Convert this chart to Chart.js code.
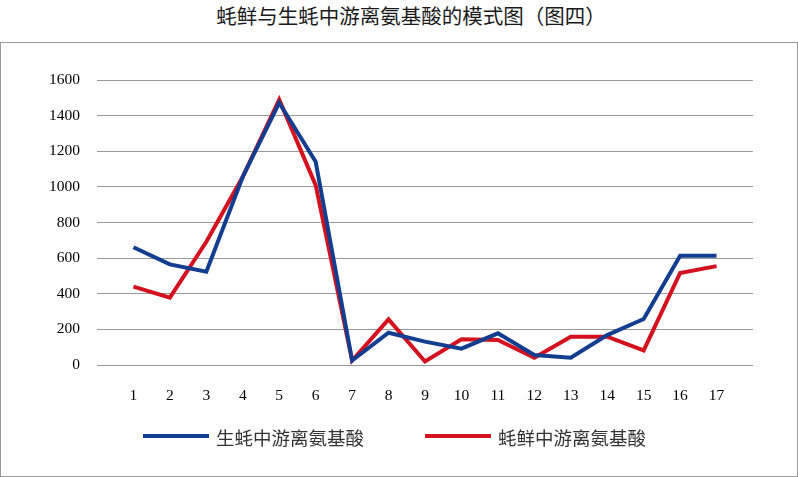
<!DOCTYPE html>
<html>
<head>
<meta charset="utf-8">
<script src="https://cdn.jsdelivr.net/npm/chart.js@4"></script>
<style>
  html, body { margin: 0; padding: 0; background: #fff; }
  #title {
    position: absolute; left: 19px; top: 3px; width: 784px;
    text-align: center; font: 20.5px "Noto Sans CJK SC", sans-serif; color: #1a1a1a;
    line-height: 24px;
  }
  #box {
    position: absolute; left: 0; top: 42px; width: 798px; height: 435px;
    box-sizing: border-box; border: 1px solid #999;
  }
  #box canvas { display: block; }
  #legend { position: absolute; left: 0; top: 424px; width: 798px; height: 26px; }
  .item { position: absolute; top: 0; height: 26px; }
  .swatch { position: absolute; top: 10px; width: 66px; height: 4px; }
  .text {
    position: absolute; top: 0; white-space: nowrap;
    font: 18.5px "Noto Sans CJK SC", sans-serif; line-height: 26px; color: #333;
  }
</style>
</head>
<body>
<div id="title">蚝鲜与生蚝中游离氨基酸的模式图（图四）</div>
<div id="box"><canvas id="chart" width="796" height="433"></canvas></div>
<div id="legend"></div>
<script>
const labels = [1, 2, 3, 4, 5, 6, 7, 8, 9, 10, 11, 12, 13, 14, 15, 16, 17];
const rawOyster = [661, 565, 524, 1057, 1472, 1141, 25, 181, 131, 92, 178, 56, 41, 168, 258, 613, 613];
const freshOyster = [440, 378, 692, 1057, 1490, 1010, 25, 256, 20, 144, 140, 41, 159, 159, 82, 517, 555];
const seriesNames = ['生蚝中游离氨基酸', '蚝鲜中游离氨基酸'];
const yTicks = [0, 200, 400, 600, 800, 1000, 1200, 1400, 1600];

const blue = '#133d8f';
const red = '#d4111e';

const chart = new Chart(document.getElementById('chart'), {
    type: 'line',
    data: {
        datasets: [
            {
                label: seriesNames[0],
                data: labels.map((x, i) => ({ x: x, y: rawOyster[i] })),
                borderColor: blue,
                backgroundColor: blue,
                borderWidth: 4,
                pointRadius: 0,
                tension: 0
            },
            {
                label: seriesNames[1],
                data: labels.map((x, i) => ({ x: x, y: freshOyster[i] })),
                borderColor: red,
                backgroundColor: red,
                borderWidth: 4,
                pointRadius: 0,
                tension: 0
            }
        ]
    },
    options: {
        responsive: false,
        animation: false,
        layout: { padding: { left: 0, right: 44, top: 37, bottom: 71 } },
        scales: {
            x: {
                type: 'linear',
                min: 0,
                max: 18,
                afterBuildTicks: (axis) => { axis.ticks = labels.map(v => ({ value: v })); },
                afterFit: (axis) => { axis.height = 40; },
                grid: { display: false, drawTicks: false },
                border: { display: false },
                ticks: {
                    padding: 22,
                    maxRotation: 0,
                    autoSkip: false,
                    color: '#000',
                    callback: (v) => String(v),
                    font: { family: 'Liberation Serif', size: 15.5 }
                }
            },
            y: {
                min: 0,
                max: 1600,
                afterBuildTicks: (axis) => { axis.ticks = yTicks.map(v => ({ value: v })); },
                afterFit: (axis) => { axis.width = 96; },
                grid: { color: '#999', lineWidth: 1, drawTicks: false },
                border: { display: false },
                ticks: {
                    padding: 17,
                    color: '#000',
                    callback: (v) => String(v),
                    font: { family: 'Liberation Serif', size: 15.5 }
                }
            }
        },
        plugins: {
            legend: { display: false },
            tooltip: { enabled: false }
        }
    }
});

// legend built from the chart's datasets
const legendPos = [143, 425];
const legendEl = document.getElementById('legend');
chart.data.datasets.forEach((ds, i) => {
    const item = document.createElement('div');
    item.className = 'item';
    item.style.left = legendPos[i] + 'px';
    const sw = document.createElement('div');
    sw.className = 'swatch';
    sw.style.background = ds.borderColor;
    const tx = document.createElement('div');
    tx.className = 'text';
    tx.style.left = '73px';
    tx.textContent = ds.label;
    item.appendChild(sw);
    item.appendChild(tx);
    legendEl.appendChild(item);
});
</script>
</body>
</html>
